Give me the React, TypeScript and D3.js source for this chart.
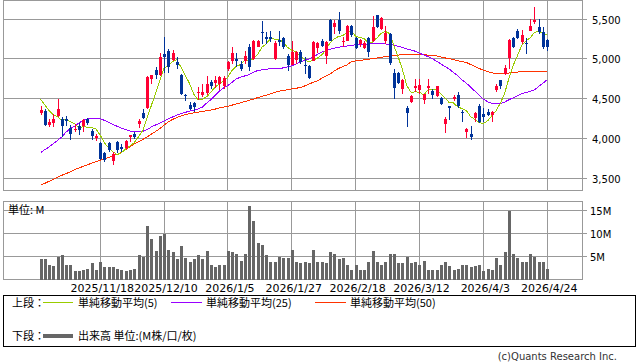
import React from 'react';
import * as d3 from 'd3';

const dateLabels = ['2025/11/18', '2025/12/10', '2026/1/5', '2026/1/27', '2026/2/18', '2026/3/12', '2026/4/3', '2026/4/24'];
const dateLabelIndex = [14, 29, 44, 59, 74, 89, 104, 119];
const priceTicks = [3500, 4000, 4500, 5000, 5500];
const volumeTicks = [5, 10, 15];

const open = [4320, 4341, 4170, 4195, 4283, 4241, 4241, 4133, 4103, 4153, 4153, 4250, 4095, 4012, 3945, 3820, 3945, 3720, 3958, 3895,
  3887, 4020, 4062, 4187, 4320, 4387, 4750, 4862, 4792, 5062, 5104, 4987, 4958, 4804, 4550, 4416, 4441, 4566, 4550, 4571,
  4708, 4700, 4687, 4654, 4875, 4979, 5004, 4937, 4979, 5154, 5000, 5154, 5342, 5279, 5279, 5000, 5237, 5258, 5042, 4929,
  4987, 5092, 4925, 4908, 4979, 5133, 5229, 5042, 5492, 5396, 5492, 5212, 5229, 5417, 5262, 5187, 5137, 5258, 5229, 5550,
  5375, 5229, 5312, 4821, 4821, 4625, 4387, 4458, 4629, 4604, 4487, 4633, 4596, 4529, 4512, 4187, 4404, 4496, 4550, 4333,
  4083, 4062, 4262, 4404, 4312, 4333, 4292, 4604, 4729, 4812, 5012, 5262, 5346, 5208, 5200, 5354, 5458, 5404, 5342, 5237];
const high = [4404, 4370, 4250, 4312, 4500, 4270, 4287, 4166, 4179, 4195, 4250, 4262, 4124, 4062, 3953, 3832, 3962, 3832, 3970, 3928,
  3978, 4045, 4083, 4250, 4375, 4779, 4804, 4896, 5071, 5271, 5125, 5112, 5029, 4812, 4562, 4458, 4458, 4646, 4679, 4779,
  4729, 4779, 4779, 4779, 4979, 5146, 5071, 4979, 5104, 5187, 5237, 5237, 5479, 5333, 5354, 5229, 5354, 5271, 5062, 5221,
  5104, 5112, 5021, 4917, 5221, 5208, 5250, 5229, 5500, 5492, 5592, 5271, 5429, 5429, 5279, 5250, 5229, 5279, 5541, 5554,
  5521, 5417, 5321, 4875, 4833, 4750, 4404, 4550, 4742, 4742, 4562, 4742, 4625, 4666, 4521, 4271, 4404, 4542, 4583, 4362,
  4133, 4154, 4333, 4437, 4387, 4375, 4342, 4687, 4737, 4925, 5250, 5279, 5375, 5362, 5258, 5500, 5654, 5500, 5404, 5250];
const low = [4291, 4162, 4145, 4145, 4270, 4020, 4162, 3978, 4078, 4041, 4083, 4166, 3978, 3970, 3737, 3707, 3832, 3666, 3820, 3832,
  3874, 3960, 4000, 4133, 4250, 4375, 4687, 4750, 4779, 4821, 4821, 4979, 4875, 4541, 4470, 4354, 4333, 4479, 4520, 4541,
  4625, 4637, 4604, 4625, 4854, 4937, 4896, 4846, 4937, 4846, 4987, 5146, 5187, 5187, 5208, 4987, 5167, 5125, 4854, 4917,
  4937, 4937, 4812, 4750, 4971, 5071, 5146, 4937, 5221, 5312, 5312, 5146, 5221, 5279, 5125, 5146, 5125, 5029, 5208, 5387,
  5362, 5187, 4929, 4500, 4679, 4562, 4146, 4446, 4583, 4554, 4437, 4554, 4500, 4521, 4417, 4071, 4237, 4471, 4387, 4208,
  4012, 3987, 4208, 4196, 4208, 4283, 4208, 4583, 4625, 4804, 4875, 5137, 5250, 5187, 5062, 5346, 5437, 5312, 5125, 5104];
const close = [4362, 4170, 4204, 4250, 4375, 4154, 4220, 4062, 4124, 4112, 4229, 4195, 4033, 4028, 3745, 3737, 3862, 3803, 3853, 3866,
  3970, 4041, 4020, 4220, 4262, 4771, 4792, 4804, 5029, 5029, 4896, 5071, 4917, 4554, 4529, 4375, 4395, 4583, 4583, 4687,
  4654, 4729, 4771, 4762, 4958, 5071, 4979, 4875, 5042, 4904, 5229, 5229, 5325, 5246, 5246, 5196, 5208, 5146, 4917, 5083,
  5083, 4967, 4908, 4762, 5208, 5196, 5167, 5217, 5229, 5446, 5346, 5229, 5417, 5300, 5133, 5242, 5196, 5083, 5404, 5396,
  5512, 5325, 4946, 4633, 4696, 4729, 4321, 4529, 4654, 4675, 4554, 4654, 4541, 4654, 4429, 4250, 4387, 4517, 4404, 4321,
  4125, 4021, 4325, 4208, 4271, 4292, 4333, 4654, 4666, 4883, 5237, 5146, 5262, 5300, 5187, 5417, 5487, 5342, 5146, 5146];

const volume = [4.35, 4.35, 3.05, 2.83, 5.0, 5.22, 3.05, 3.05, 1.74, 1.74, 2.17, 2.39, 3.48, 2.17, 3.9, 2.61, 2.61, 2.61, 2.39, 1.96,
  1.74, 1.96, 2.39, 5.22, 5.0, 11.7, 8.9, 6.1, 9.35, 10.0, 6.5, 5.87, 4.35, 7.18, 4.57, 3.7, 4.35, 5.22, 4.35, 6.3,
  3.05, 2.61, 3.05, 3.05, 6.1, 5.87, 5.44, 4.13, 5.44, 15.9, 12.8, 7.83, 7.6, 5.22, 3.9, 3.7, 5.0, 4.57, 4.78, 6.5,
  3.9, 3.48, 3.9, 3.48, 6.5, 3.9, 3.7, 3.48, 5.87, 5.44, 4.35, 4.57, 3.26, 1.96, 3.05, 2.17, 1.96, 3.7, 6.1, 3.9,
  3.26, 3.9, 5.44, 5.44, 3.48, 3.48, 5.0, 3.48, 3.9, 3.26, 4.13, 2.17, 2.17, 2.17, 3.26, 3.7, 2.83, 2.17, 2.39, 3.26,
  3.05, 2.61, 2.83, 3.05, 1.74, 2.39, 2.17, 4.57, 3.05, 5.87, 15.0, 5.65, 4.57, 3.9, 3.7, 5.44, 5.0, 3.7, 3.7, 2.39];

const ma5 = [4492, 4420, 4350, 4300, 4272, 4231, 4241, 4212, 4187, 4134, 4149, 4144, 4139, 4119, 4046, 3948, 3881, 3835, 3800, 3824,
  3871, 3907, 3950, 4023, 4103, 4263, 4413, 4570, 4732, 4885, 4910, 4966, 4988, 4893, 4793, 4689, 4554, 4487, 4493, 4525,
  4580, 4647, 4685, 4721, 4775, 4858, 4908, 4929, 4985, 4974, 5006, 5056, 5146, 5187, 5255, 5248, 5244, 5208, 5143, 5110,
  5087, 5039, 4992, 4961, 4986, 5008, 5048, 5110, 5203, 5251, 5281, 5293, 5333, 5348, 5285, 5264, 5258, 5191, 5212, 5264,
  5318, 5344, 5317, 5162, 5022, 4866, 4665, 4582, 4586, 4582, 4547, 4613, 4616, 4616, 4566, 4506, 4452, 4447, 4397, 4376,
  4351, 4278, 4239, 4200, 4190, 4223, 4286, 4352, 4443, 4566, 4755, 4917, 5039, 5166, 5226, 5262, 5331, 5347, 5316, 5308];
const ma25 = [3825, 3862, 3896, 3937, 3979, 4021, 4083, 4125, 4158, 4196, 4229, 4250, 4254, 4254, 4250, 4229, 4204, 4179, 4154, 4129,
  4112, 4096, 4087, 4083, 4092, 4112, 4146, 4171, 4196, 4221, 4250, 4271, 4296, 4312, 4329, 4346, 4354, 4371, 4396, 4446,
  4487, 4542, 4596, 4637, 4667, 4708, 4750, 4771, 4787, 4804, 4833, 4854, 4862, 4871, 4875, 4875, 4879, 4887, 4900, 4912,
  4937, 4958, 4979, 4996, 5021, 5054, 5083, 5104, 5121, 5133, 5146, 5154, 5162, 5171, 5175, 5179, 5183, 5187, 5187, 5187,
  5187, 5187, 5183, 5175, 5158, 5142, 5125, 5112, 5096, 5071, 5050, 5029, 5004, 4971, 4937, 4904, 4871, 4829, 4787, 4737,
  4696, 4646, 4596, 4546, 4496, 4462, 4442, 4437, 4442, 4458, 4487, 4512, 4537, 4562, 4579, 4592, 4612, 4654, 4696, 4737];
const ma50 = [3417, 3440, 3465, 3490, 3515, 3540, 3562, 3585, 3610, 3632, 3652, 3672, 3692, 3710, 3729, 3748, 3765, 3785, 3804, 3830,
  3862, 3900, 3935, 3960, 3990, 4021, 4055, 4090, 4125, 4170, 4210, 4240, 4265, 4285, 4300, 4312, 4325, 4333, 4340, 4350,
  4358, 4370, 4385, 4395, 4404, 4420, 4436, 4450, 4465, 4480, 4495, 4515, 4530, 4545, 4562, 4578, 4595, 4605, 4612, 4625,
  4632, 4640, 4660, 4685, 4705, 4725, 4755, 4785, 4808, 4850, 4880, 4905, 4925, 4965, 4975, 4982, 4988, 4995, 5002, 5010,
  5020, 5030, 5038, 5044, 5048, 5050, 5052, 5054, 5054, 5052, 5050, 5048, 5044, 5038, 5025, 5012, 5003, 4990, 4978, 4965,
  4955, 4930, 4905, 4880, 4858, 4840, 4825, 4815, 4813, 4815, 4822, 4830, 4835, 4838, 4840, 4840, 4840, 4840, 4840, 4840];

const legendTop = ['単純移動平均(5)', '単純移動平均(25)', '単純移動平均(50)'];
const legendBottom = '出来高 単位:(M株/口/枚)';

const GRID = '#999999';
const UP = '#ff0033';
const DOWN = '#003399';
const C5 = '#99cc00';
const C25 = '#9900ff';
const C50 = '#ff3300';
const FONT = "'DejaVu Sans', 'Noto Sans CJK JP', sans-serif";
const JFONT = "'Noto Sans CJK JP', 'DejaVu Sans', sans-serif";

export default function App() {
  const left = 3.5, right = 582.5;
  const upTop = 0.5, upBottom = 190.5;
  const volTop = 201.5, volBottom = 279.5;

  const idx = d3.range(close.length);
  const x = d3.scaleLinear().domain([0, 119]).range([40.6, 547.2]);
  const y = d3.scaleLinear().domain([3500, 5500]).range([178.5, 19]);
  const yv = d3.scaleLinear().domain([0, 15]).range([volBottom, 210.5]);

  const px = (i: number) => Math.round(x(i));
  const gx = (i: number) => Math.round(x(i) - 0.5) + 0.5;
  const gy = (v: number) => Math.floor(y(v)) + 0.5;
  const gyv = (v: number) => Math.floor(yv(v)) + 0.5;

  const line = (arr: number[]) =>
    d3.line<number>().x((i) => x(i)).y((i) => y(arr[i]))(idx) || '';

  return (
    <svg width={638} height={362} style={{ position: 'absolute', left: 0, top: 0, background: '#fff' }}>
      <rect x={0} y={0} width={638} height={362} fill="#fff" />
      <g stroke={GRID} strokeWidth={1} shapeRendering="crispEdges">
        {priceTicks.map((t) => (
          <g key={t}>
            <line x1={left} x2={right} y1={gy(t)} y2={gy(t)} />
            <line x1={right} x2={right + 4} y1={gy(t)} y2={gy(t)} />
          </g>
        ))}
        {dateLabelIndex.map((i) => (
          <line key={i} x1={gx(i)} x2={gx(i)} y1={upTop} y2={upBottom} />
        ))}
        <rect x={left} y={upTop} width={right - left} height={upBottom - upTop} fill="none" />
        {volumeTicks.map((t) => (
          <g key={t}>
            <line x1={left} x2={right} y1={gyv(t)} y2={gyv(t)} />
            <line x1={right} x2={right + 4} y1={gyv(t)} y2={gyv(t)} />
          </g>
        ))}
        {dateLabelIndex.map((i) => (
          <line key={'v' + i} x1={gx(i)} x2={gx(i)} y1={volTop} y2={volBottom} />
        ))}
        <rect x={left} y={volTop} width={right - left} height={volBottom - volTop} fill="none" />
      </g>

      <g fill="none" strokeWidth={1} shapeRendering="crispEdges">
        <path d={line(ma50)} stroke={C50} />
        <path d={line(ma25)} stroke={C25} />
        <path d={line(ma5)} stroke={C5} />
      </g>

      <g shapeRendering="crispEdges">
        {idx.map((i) => {
          const up = close[i] >= open[i];
          const col = up ? UP : DOWN;
          const cx = px(i);
          const top = y(Math.max(open[i], close[i]));
          const bot = y(Math.min(open[i], close[i]));
          return (
            <g key={i}>
              <line x1={cx + 0.5} x2={cx + 0.5} y1={y(high[i])} y2={y(low[i])} stroke={col} strokeWidth={1} />
              <rect x={cx - 1} y={top} width={3} height={Math.max(1, bot - top)} fill={col} />
            </g>
          );
        })}
      </g>

      <g fill="#666666" shapeRendering="crispEdges">
        {idx.map((i) => (
          <rect key={i} x={px(i) - 1} y={yv(volume[i])} width={3} height={volBottom - yv(volume[i])} />
        ))}
      </g>

      <g fontFamily={FONT} fontSize={10} fill="#000">
        {priceTicks.map((t) => (
          <text key={t} x={592} y={gy(t) + 4}>{d3.format(',')(t)}</text>
        ))}
        {volumeTicks.map((t) => (
          <text key={t} x={590} y={gyv(t) + 4}>{t + 'M'}</text>
        ))}
      </g>
      <text x={8} y={214} fontFamily={JFONT} fontSize={11} fill="#000">単位: M</text>

      <g fontFamily={FONT} fontSize={11} fill="#000" textAnchor="middle">
        {dateLabelIndex.map((i, k) => (
          <text key={i} x={x(i) + 2} y={292}>{dateLabels[k]}</text>
        ))}
      </g>

      <rect x={3.5} y={295.5} width={632} height={51} fill="none" stroke="#000" strokeWidth={1} shapeRendering="crispEdges" />
      <g fontFamily={JFONT} fontSize={11} fill="#000">
        <text x={12} y={306.5}>上段：</text>
        <line x1={43} x2={73} y1={302.5} y2={302.5} stroke={C5} />
        <text x={78} y={306.5}>{legendTop[0]}</text>
        <line x1={171} x2={202} y1={302.5} y2={302.5} stroke={C25} />
        <text x={206} y={306.5}>{legendTop[1]}</text>
        <line x1={315} x2={346} y1={302.5} y2={302.5} stroke={C50} />
        <text x={350} y={306.5}>{legendTop[2]}</text>
        <text x={12} y={340}>下段：</text>
        <line x1={43} x2={73} y1={336} y2={336} stroke="#666666" strokeWidth={4} />
        <text x={78} y={340}>{legendBottom}</text>
      </g>
      <text x={617} y={360} textAnchor="end" fontFamily={FONT} fontSize={10} fill="#333">(c)Quants Research Inc.</text>
    </svg>
  );
}
